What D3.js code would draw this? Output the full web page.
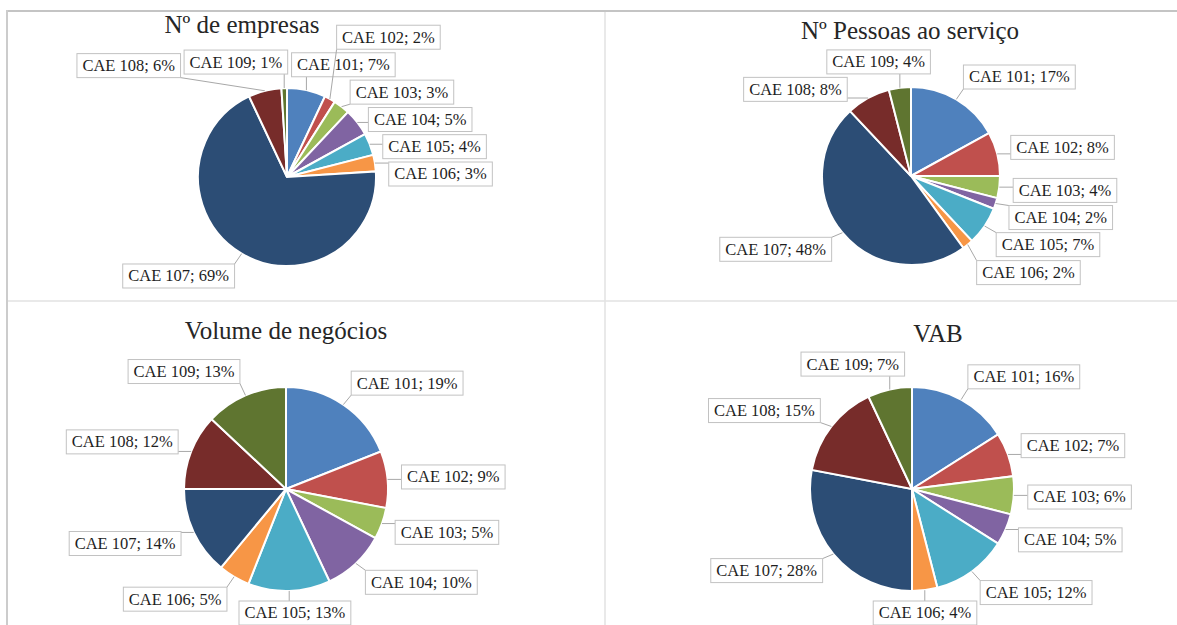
<!DOCTYPE html>
<html>
<head>
<meta charset="utf-8">
<script src="https://cdn.jsdelivr.net/npm/d3@7"></script>
<style>
  body { margin: 0; background: #fff; }
  svg { display: block; }
  text { font-family: "Times New Roman", "Liberation Serif", serif; }
</style>
</head>
<body>
<script>
var width = 1177;
var height = 625;

// data
var categories = ["CAE 101", "CAE 102", "CAE 103", "CAE 104", "CAE 105",
                  "CAE 106", "CAE 107", "CAE 108", "CAE 109"];
var empresas = [7, 2, 3, 5, 4, 3, 69, 6, 1];
var pessoas  = [17, 8, 4, 2, 7, 2, 48, 8, 4];
var volume   = [19, 9, 5, 10, 13, 5, 14, 12, 13];
var vab      = [16, 7, 6, 5, 12, 4, 28, 15, 7];
var titles = ["Nº de empresas", "Nº Pessoas ao serviço", "Volume de negócios", "VAB"];

var colors = ["#4F81BD", "#C0504D", "#9BBB59", "#8064A2", "#4BACC6",
              "#F79646", "#2C4D75", "#772C2A", "#5F7530"];

var color = d3.scaleOrdinal().domain(categories).range(colors);

var holder = d3.select("body")
    .append("svg")
    .attr("width", width)
    .attr("height", height);

// frame of the 2x2 grid
holder.append("line").attr("x1", 6).attr("x2", width).attr("y1", 11).attr("y2", 11)
    .style("stroke", "#c4c4c4").style("stroke-width", 2);
holder.append("line").attr("x1", 7).attr("x2", 7).attr("y1", 10).attr("y2", height)
    .style("stroke", "#cccccc").style("stroke-width", 2);
holder.append("line").attr("x1", 605).attr("x2", 605).attr("y1", 12).attr("y2", height)
    .style("stroke", "#e2e2e2").style("stroke-width", 1.5);
holder.append("line").attr("x1", 8).attr("x2", width).attr("y1", 301).attr("y2", 301)
    .style("stroke", "#e2e2e2").style("stroke-width", 1.5);

var panels = [
    {values: empresas, title: titles[0], cx: 287, cy: 177, r: 89, tx: 242, ty: 33,
     box: [9, 13, 603, 299]},
    {values: pessoas,  title: titles[1], cx: 911, cy: 176, r: 89, tx: 910, ty: 39,
     box: [607, 13, 1177, 299]},
    {values: volume,   title: titles[2], cx: 286, cy: 489, r: 102, tx: 286, ty: 339,
     box: [9, 303, 603, 625]},
    {values: vab,      title: titles[3], cx: 912, cy: 489, r: 102, tx: 938, ty: 342,
     box: [607, 303, 1177, 625]}
];

var fontSize = 16.5;
var boxH = 24;
var gap = 3;

function overlap(a, b) {
    return a.left < b.right + gap && b.left < a.right + gap &&
           a.top < b.bottom + gap && b.top < a.bottom + gap;
}

panels.forEach(function(p) {
    var g = holder.append("g");

    var title = g.append("text")
        .attr("x", p.tx)
        .attr("y", p.ty)
        .attr("text-anchor", "middle")
        .style("font-size", "25px")
        .style("fill", "#262626")
        .text(p.title);
    var tb = title.node().getBBox();
    var titleBox = {left: tb.x, right: tb.x + tb.width, top: tb.y, bottom: tb.y + tb.height - 4};

    var pie = d3.pie().sort(null).value(function(d) { return d; });
    var arcs = pie(p.values);
    var arc = d3.arc().innerRadius(0).outerRadius(p.r);

    var pg = g.append("g").attr("transform", "translate(" + p.cx + "," + p.cy + ")");
    pg.selectAll("path")
        .data(arcs)
        .enter().append("path")
        .attr("d", arc)
        .style("fill", function(d, i) { return color(categories[i]); })
        .style("stroke", "#fff")
        .style("stroke-width", 2);

    // labels: measure, find the preferred spot next to the slice
    var lg = g.append("g");
    var labels = arcs.map(function(d, i) {
        var t = lg.append("text")
            .style("font-size", fontSize + "px")
            .style("fill", "#1e1e1e")
            .text(categories[i] + "; " + p.values[i] + "%");
        var w = t.node().getComputedTextLength() + 11;
        var a = (d.startAngle + d.endAngle) / 2;
        var s = Math.sin(a), c = Math.cos(a);
        var R = p.r + 14;
        var ax = p.cx + R * s, ay = p.cy - R * c;
        var k = Math.max(-1, Math.min(1, 3 * s));
        var left = ax - w * (1 - k) / 2;
        var top = ay - boxH * c / 2 - boxH / 2;
        left = Math.max(p.box[0], Math.min(p.box[2] - w, left));
        top = Math.max(p.box[1], Math.min(p.box[3] - boxH, top));
        return {text: t, w: w, a: a, s: s, c: c, left: left, top: top};
    });

    function clear(b, placed) {
        if (b.left < p.box[0] || b.right > p.box[2] || b.top < p.box[1] || b.bottom > p.box[3]) return false;
        if (overlap(b, titleBox)) return false;
        var nx = Math.max(b.left, Math.min(b.right, p.cx));
        var ny = Math.max(b.top, Math.min(b.bottom, p.cy));
        if (Math.hypot(nx - p.cx, ny - p.cy) < p.r + 2) return false;
        for (var i = 0; i < placed.length; i++) if (overlap(b, placed[i])) return false;
        return true;
    }

    // right side from the top down, then left side from the top down
    var order = labels.slice().sort(function(A, B) {
        var ka = A.s >= 0 ? A.a : 20 - A.a;
        var kb = B.s >= 0 ? B.a : 20 - B.a;
        return ka - kb;
    });

    var placed = [];
    order.forEach(function(L) {
        var ox = L.s < 0 ? -1 : 1;
        var q = Math.SQRT1_2;
        var dirs = [[0, 1], [0, -1], [ox, 0], [-ox, 0], [L.s, -L.c],
                    [ox * q, -q], [ox * q, q], [-ox * q, -q], [-ox * q, q]];
        var best = null, bestCost = Infinity;
        dirs.forEach(function(dv) {
            var wgt = 1 + 1.2 * Math.max(0, dv[1]);
            for (var d = 0; d < 260; d++) {
                if (d * wgt >= bestCost) break;
                var l = L.left + dv[0] * d, t = L.top + dv[1] * d;
                var b = {left: l, right: l + L.w, top: t, bottom: t + boxH};
                if (clear(b, placed)) { best = b; bestCost = d * wgt; break; }
            }
        });
        if (!best) best = {left: L.left, right: L.left + L.w, top: L.top, bottom: L.top + boxH};
        L.left = best.left; L.top = best.top;
        placed.push(best);
    });

    labels.forEach(function(L) {
        var px = p.cx + p.r * L.s;
        var py = p.cy - p.r * L.c;
        var qx = Math.max(L.left, Math.min(L.left + L.w, px));
        var qy = Math.max(L.top, Math.min(L.top + boxH, py));
        if (Math.hypot(qx - px, qy - py) > 5) {
            lg.insert("line", "text")
                .attr("x1", px).attr("y1", py)
                .attr("x2", qx).attr("y2", qy)
                .style("stroke", "#a8a8a8")
                .style("stroke-width", 1);
        }
        lg.insert("rect", "text")
            .attr("x", L.left).attr("y", L.top)
            .attr("width", L.w).attr("height", boxH)
            .style("fill", "#fff")
            .style("stroke", "#c2c2c2")
            .style("stroke-width", 1);
        L.text
            .attr("x", L.left + L.w / 2)
            .attr("y", L.top + boxH / 2 + fontSize * 0.33)
            .attr("text-anchor", "middle");
    });
});
</script>
</body>
</html>
